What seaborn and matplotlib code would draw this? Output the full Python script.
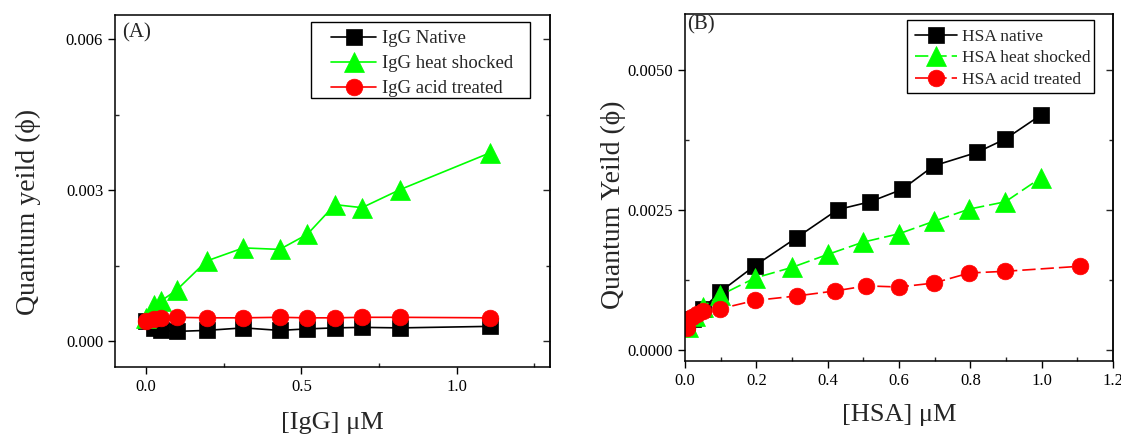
import numpy as np
import pandas as pd
import matplotlib
matplotlib.use("Agg")
import matplotlib.pyplot as plt
from matplotlib.ticker import MultipleLocator, FormatStrFormatter, NullFormatter
from matplotlib.patches import Rectangle
import seaborn as sns

# ---------------- data ----------------
igg_x = [0.0, 0.024, 0.047, 0.098, 0.195, 0.313, 0.430, 0.519, 0.608, 0.695, 0.818, 1.107]
igg_native = [0.00039, 0.00026, 0.00021, 0.00019, 0.00021, 0.00026, 0.00021, 0.00024, 0.00026, 0.00027, 0.00026, 0.00029]
igg_heat = [0.00046, 0.00072, 0.00079, 0.00101, 0.00159, 0.00185, 0.00182, 0.00212, 0.00271, 0.00265, 0.00301, 0.00374]
igg_acid = [0.00040, 0.00044, 0.00046, 0.00047, 0.00046, 0.00046, 0.00047, 0.00046, 0.00046, 0.00047, 0.00047, 0.00046]

hsa_native_x = [0.005, 0.023, 0.05, 0.098, 0.196, 0.313, 0.428, 0.519, 0.608, 0.697, 0.818, 0.898, 0.998]
hsa_native = [0.00039, 0.00056, 0.00074, 0.00104, 0.00151, 0.00201, 0.00251, 0.00265, 0.00287, 0.00329, 0.00353, 0.00377, 0.00420]
hsa_heat_x = [0.01, 0.028, 0.05, 0.098, 0.196, 0.30, 0.40, 0.499, 0.60, 0.697, 0.797, 0.898, 0.998]
hsa_heat = [0.00042, 0.00062, 0.00078, 0.00098, 0.00129, 0.00148, 0.00171, 0.00193, 0.00208, 0.00230, 0.00252, 0.00265, 0.00308]
hsa_acid_x = [0.005, 0.019, 0.033, 0.05, 0.098, 0.196, 0.313, 0.421, 0.508, 0.60, 0.697, 0.797, 0.898, 1.107]
hsa_acid = [0.00039, 0.00059, 0.00065, 0.00070, 0.00074, 0.00089, 0.00097, 0.00106, 0.00115, 0.00113, 0.00120, 0.00138, 0.00141, 0.00150]

labels_a = ["IgG Native", "IgG heat shocked", "IgG acid treated"]
labels_b = ["HSA native", "HSA heat shocked", "HSA acid treated"]

# ---------------- style ----------------
sns.set_theme(style="ticks")
plt.rcParams["font.family"] = ["Liberation Serif", "DejaVu Serif"]

fig = plt.figure(figsize=(11.21, 4.36), dpi=100)
axA = fig.add_axes([0.1026, 0.158, 0.388, 0.8076])
axB = fig.add_axes([0.611, 0.172, 0.382, 0.796])

BLACK, GREEN, RED = "#000000", "#00ff00", "#ff0000"


def draw(ax, x, y, color, marker, ms, ls, label):
    kw = dict(color=color, marker=marker, markersize=ms, markeredgecolor=color,
              markerfacecolor=color, markeredgewidth=0.5, linewidth=1.2,
              label=label, sort=False, estimator=None, ax=ax)
    if ls == "dash":
        kw["dashes"] = (8, 3)
    sns.lineplot(x=x, y=y, **kw)


# Panel A
draw(axA, igg_x, igg_native, BLACK, "s", 11, "solid", labels_a[0])
draw(axA, igg_x, igg_heat, GREEN, "^", 14, "solid", labels_a[1])
draw(axA, igg_x, igg_acid, RED, "o", 12, "solid", labels_a[2])

# Panel B
draw(axB, hsa_native_x, hsa_native, BLACK, "s", 11, "solid", labels_b[0])
draw(axB, hsa_heat_x, hsa_heat, GREEN, "^", 14, "dash", labels_b[1])
draw(axB, hsa_acid_x, hsa_acid, RED, "o", 12, "dash", labels_b[2])

# axes formatting
axA.set_xlim(-0.1, 1.3)
axA.set_ylim(-0.00052, 0.00648)
axA.xaxis.set_major_locator(MultipleLocator(0.5))
axA.xaxis.set_minor_locator(MultipleLocator(0.25))
axA.yaxis.set_major_locator(MultipleLocator(0.003))
axA.yaxis.set_minor_locator(MultipleLocator(0.0015))
axA.xaxis.set_major_formatter(FormatStrFormatter("%.1f"))
axA.yaxis.set_major_formatter(FormatStrFormatter("%.3f"))
axA.set_xlabel("[IgG] μM", fontsize=19, labelpad=12)
axA.set_ylabel("Quantum yeild (ϕ)", fontsize=20, labelpad=18)
axA.yaxis.label.set_y(0.44)

axB.set_xlim(0.0, 1.2)
axB.set_ylim(-0.00019, 0.006)
axB.xaxis.set_major_locator(MultipleLocator(0.2))
axB.xaxis.set_minor_locator(MultipleLocator(0.1))
axB.yaxis.set_major_locator(MultipleLocator(0.0025))
axB.yaxis.set_minor_locator(MultipleLocator(0.00125))
axB.xaxis.set_major_formatter(FormatStrFormatter("%.1f"))
axB.yaxis.set_major_formatter(FormatStrFormatter("%.4f"))
axB.set_xlabel("[HSA] μM", fontsize=19, labelpad=11)
axB.set_ylabel("Quantum Yeild (ϕ)", fontsize=20, labelpad=1)
axB.yaxis.label.set_y(0.45)

for ax in (axA, axB):
    for s in ax.spines.values():
        s.set_visible(True)
        s.set_linewidth(1.1)
        s.set_color("black")
    ax.tick_params(which="major", direction="out", length=5, width=1, labelsize=12,
                   colors="black", right=False, top=False)
    ax.tick_params(which="minor", direction="in", length=3, width=1, right=False, top=False)
    # right side: inward ticks, no labels
    sec = ax.secondary_yaxis("right")
    sec.yaxis.set_major_locator(ax.yaxis.get_major_locator())
    sec.yaxis.set_minor_locator(ax.yaxis.get_minor_locator())
    sec.yaxis.set_major_formatter(NullFormatter())
    sec.tick_params(which="major", direction="in", length=5, width=1)
    sec.tick_params(which="minor", direction="in", length=3, width=1)
    sec.spines["right"].set_linewidth(1.1)


def legend_box(ax, handles_x, center_y, box, spacing, fs):
    leg = ax.legend(loc="center left", bbox_to_anchor=(handles_x, center_y), fontsize=fs,
                    frameon=False, handlelength=2.4, borderpad=0, borderaxespad=0,
                    labelspacing=spacing, handletextpad=0.3)
    x0, y0, x1, y1 = box
    ax.add_patch(Rectangle((x0, y0), x1 - x0, y1 - y0, transform=ax.transAxes,
                           fill=False, edgecolor="black", linewidth=1.0, zorder=5))
    return leg


legend_box(axA, 0.4966, 0.862, (0.45, 0.764, 0.954, 0.98), 0.42, 13.5)
legend_box(axB, 0.537, 0.872, (0.5187, 0.7723, 0.9556, 0.9827), 0.32, 12.5)

axA.text(0.016, 0.95, "(A)", transform=axA.transAxes, fontsize=15, va="center", ha="left")
axB.text(0.005, 0.968, "(B)", transform=axB.transAxes, fontsize=15, va="center", ha="left")

fig.savefig("out.png", dpi=100)
